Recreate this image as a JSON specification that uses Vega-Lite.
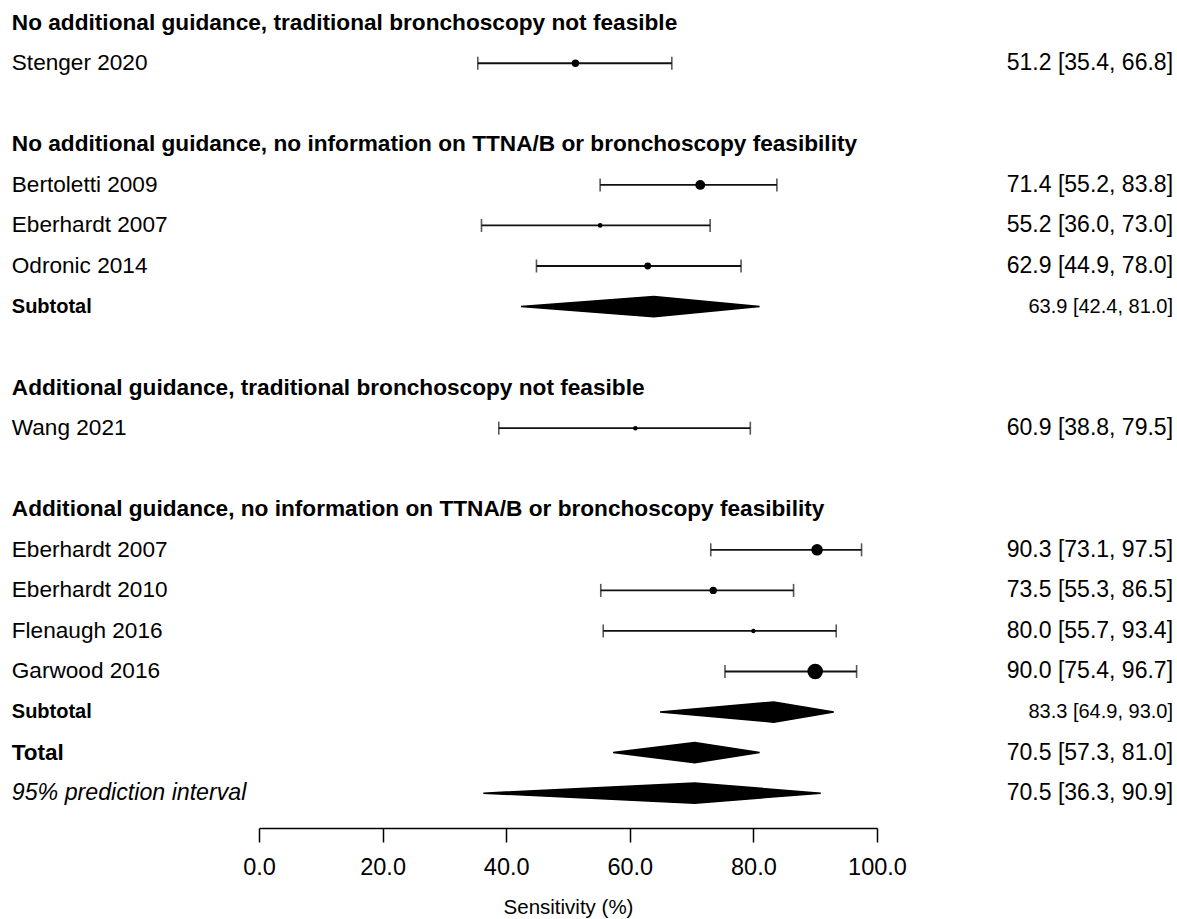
{
  "$schema": "https://vega.github.io/schema/vega-lite/v6.json",
  "width": 618,
  "height": 828,
  "autosize": {"type": "none"},
  "padding": {"left": 259, "right": 300, "top": 0, "bottom": 91},
  "background": "white",
  "config": {"view": {"stroke": null}, "font": "Liberation Sans"},
  "data": {
    "values": [
      {"row": 0, "kind": "header", "label": "No additional guidance, traditional bronchoscopy not feasible"},
      {"row": 1, "kind": "study", "label": "Stenger 2020", "est": 51.2, "lo": 35.4, "hi": 66.8, "weight": 7.9},
      {"row": 3, "kind": "header", "label": "No additional guidance, no information on TTNA/B or bronchoscopy feasibility"},
      {"row": 4, "kind": "study", "label": "Bertoletti 2009", "est": 71.4, "lo": 55.2, "hi": 83.8, "weight": 14.1},
      {"row": 5, "kind": "study", "label": "Eberhardt 2007", "est": 55.2, "lo": 36.0, "hi": 73.0, "weight": 3.3},
      {"row": 6, "kind": "study", "label": "Odronic 2014", "est": 62.9, "lo": 44.9, "hi": 78.0, "weight": 6.7},
      {"row": 7, "kind": "subtotal", "label": "Subtotal", "est": 63.9, "lo": 42.4, "hi": 81.0},
      {"row": 9, "kind": "header", "label": "Additional guidance, traditional bronchoscopy not feasible"},
      {"row": 10, "kind": "study", "label": "Wang 2021", "est": 60.9, "lo": 38.8, "hi": 79.5, "weight": 3.0},
      {"row": 12, "kind": "header", "label": "Additional guidance, no information on TTNA/B or bronchoscopy feasibility"},
      {"row": 13, "kind": "study", "label": "Eberhardt 2007", "est": 90.3, "lo": 73.1, "hi": 97.5, "weight": 19.2},
      {"row": 14, "kind": "study", "label": "Eberhardt 2010", "est": 73.5, "lo": 55.3, "hi": 86.5, "weight": 7.9},
      {"row": 15, "kind": "study", "label": "Flenaugh 2016", "est": 80.0, "lo": 55.7, "hi": 93.4, "weight": 2.8},
      {"row": 16, "kind": "study", "label": "Garwood 2016", "est": 90.0, "lo": 75.4, "hi": 96.7, "weight": 35.1},
      {"row": 17, "kind": "subtotal", "label": "Subtotal", "est": 83.3, "lo": 64.9, "hi": 93.0},
      {"row": 18, "kind": "total", "label": "Total", "est": 70.5, "lo": 57.3, "hi": 81.0},
      {"row": 19, "kind": "pi", "label": "95% prediction interval", "est": 70.5, "lo": 36.3, "hi": 90.9}
    ]
  },
  "layer": [
    {
      "transform": [{"filter": "datum.kind === 'study'"}],
      "mark": {"type": "rule", "color": "#111", "strokeWidth": 1.8},
      "encoding": {
        "x": {"field": "lo", "type": "quantitative", "scale": {"domain": [0, 100], "nice": false, "zero": false},
          "axis": {"values": [0, 20, 40, 60, 80, 100], "format": ".1f", "title": "Sensitivity (%)", "grid": false,
            "labelFlush": false, "labelOverlap": false,
            "domainColor": "#000", "domainWidth": 1.5, "tickColor": "#000", "tickWidth": 1.5, "tickSize": 14,
            "labelFontSize": 23.5, "labelColor": "#000", "labelPadding": 13, "labelFont": "Liberation Sans",
            "titleFontSize": 20.5, "titleFontWeight": "normal", "titleColor": "#000", "titlePadding": 19, "titleFont": "Liberation Sans"}},
        "x2": {"field": "hi"},
        "y": {"field": "row", "type": "quantitative", "scale": {"domain": [-0.56, 19.86], "reverse": true, "nice": false, "zero": false}, "axis": null}
      }
    },
    {
      "transform": [{"filter": "datum.kind === 'study'"}, {"fold": ["lo", "hi"], "as": ["end", "xv"]}],
      "mark": {"type": "tick", "orient": "vertical", "color": "#111", "size": 13, "thickness": 1.6},
      "encoding": {
        "x": {"field": "xv", "type": "quantitative"},
        "y": {"field": "row", "type": "quantitative"}
      }
    },
    {
      "transform": [{"filter": "datum.kind === 'study'"}],
      "mark": {"type": "point", "shape": "circle", "filled": true, "color": "#000", "opacity": 1},
      "encoding": {
        "x": {"field": "est", "type": "quantitative"},
        "y": {"field": "row", "type": "quantitative"},
        "size": {"field": "weight", "type": "quantitative", "scale": {"type": "linear", "domain": [0, 40], "range": [0, 275]}, "legend": null}
      }
    },
    {
      "transform": [
        {"filter": "datum.kind === 'subtotal' || datum.kind === 'total' || datum.kind === 'pi'"},
        {"fold": ["lo", "est", "hi"], "as": ["pt", "xv"]},
        {"calculate": "datum.pt === 'est' ? 0.25 : 0", "as": "hh"},
        {"calculate": "datum.row - datum.hh", "as": "ytop"},
        {"calculate": "datum.row + datum.hh", "as": "ybot"}
      ],
      "mark": {"type": "area", "orient": "vertical", "color": "#000", "opacity": 1, "stroke": "#000", "strokeWidth": 1.5},
      "encoding": {
        "x": {"field": "xv", "type": "quantitative"},
        "y": {"field": "ytop", "type": "quantitative"},
        "y2": {"field": "ybot"},
        "detail": {"field": "row", "type": "nominal"}
      }
    },
    {
      "transform": [{"filter": "datum.kind === 'header'"}],
      "mark": {"type": "text", "align": "left", "baseline": "middle", "fontSize": 22.65, "fontWeight": "bold", "color": "#000"},
      "encoding": {"x": {"datum": -40}, "y": {"field": "row", "type": "quantitative"}, "text": {"field": "label"}}
    },
    {
      "transform": [{"filter": "datum.kind === 'study'"}],
      "mark": {"type": "text", "align": "left", "baseline": "middle", "fontSize": 22.6, "color": "#000"},
      "encoding": {"x": {"datum": -40}, "y": {"field": "row", "type": "quantitative"}, "text": {"field": "label"}}
    },
    {
      "transform": [{"filter": "datum.kind === 'subtotal'"}],
      "mark": {"type": "text", "align": "left", "baseline": "middle", "fontSize": 20, "fontWeight": "bold", "color": "#000"},
      "encoding": {"x": {"datum": -40}, "y": {"field": "row", "type": "quantitative"}, "text": {"field": "label"}}
    },
    {
      "transform": [{"filter": "datum.kind === 'total'"}],
      "mark": {"type": "text", "align": "left", "baseline": "middle", "fontSize": 22.5, "fontWeight": "bold", "color": "#000"},
      "encoding": {"x": {"datum": -40}, "y": {"field": "row", "type": "quantitative"}, "text": {"field": "label"}}
    },
    {
      "transform": [{"filter": "datum.kind === 'pi'"}],
      "mark": {"type": "text", "align": "left", "baseline": "middle", "fontSize": 23.2, "fontStyle": "italic", "color": "#000"},
      "encoding": {"x": {"datum": -40}, "y": {"field": "row", "type": "quantitative"}, "text": {"field": "label"}}
    },
    {
      "transform": [
        {"filter": "datum.kind === 'study' || datum.kind === 'total' || datum.kind === 'pi'"},
        {"calculate": "format(datum.est, '.1f') + ' [' + format(datum.lo, '.1f') + ', ' + format(datum.hi, '.1f') + ']'", "as": "ci"}
      ],
      "mark": {"type": "text", "align": "right", "baseline": "middle", "fontSize": 23, "color": "#000"},
      "encoding": {"x": {"datum": 147.9}, "y": {"field": "row", "type": "quantitative"}, "text": {"field": "ci"}}
    },
    {
      "transform": [
        {"filter": "datum.kind === 'subtotal'"},
        {"calculate": "format(datum.est, '.1f') + ' [' + format(datum.lo, '.1f') + ', ' + format(datum.hi, '.1f') + ']'", "as": "ci"}
      ],
      "mark": {"type": "text", "align": "right", "baseline": "middle", "fontSize": 20, "color": "#000"},
      "encoding": {"x": {"datum": 147.9}, "y": {"field": "row", "type": "quantitative"}, "text": {"field": "ci"}}
    }
  ]
}
